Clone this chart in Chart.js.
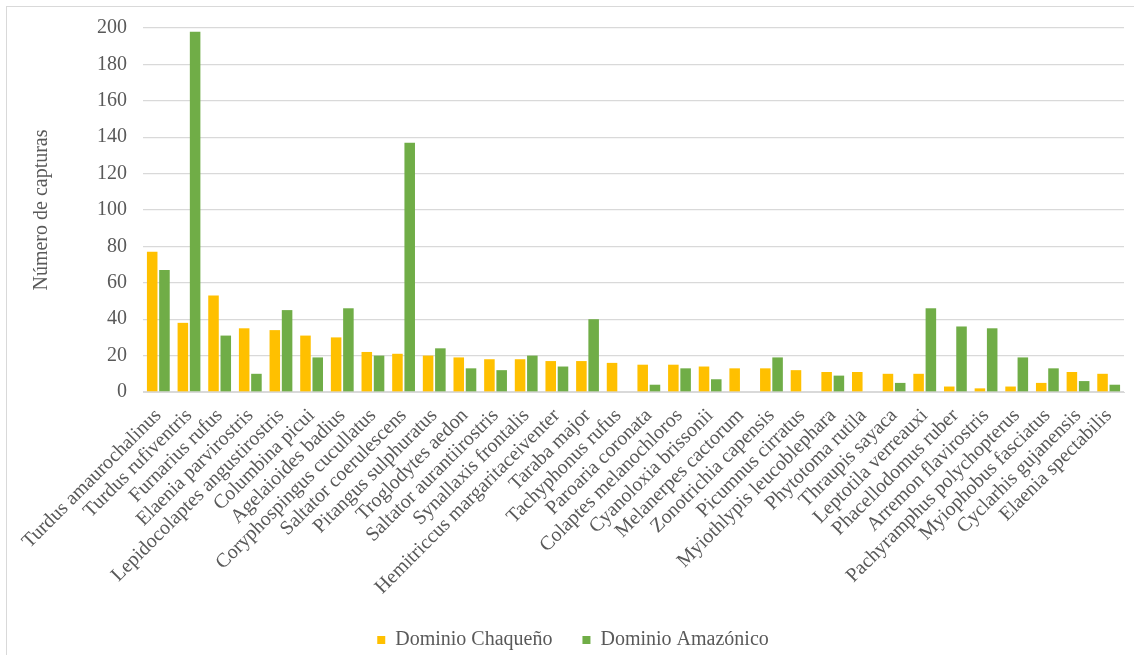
<!DOCTYPE html>
<html>
<head>
<meta charset="utf-8">
<script src="https://cdn.jsdelivr.net/npm/chart.js@4.4.1/dist/chart.umd.min.js"></script>
<style>
    html, body { margin: 0; padding: 0; background: #ffffff; overflow: hidden; }
    #wrap { position: relative; width: 1134px; height: 655px; }
    #frame { position: absolute; left: 6px; top: 6px; width: 1400px; height: 900px; border: 1px solid #d9d9d9; }
    #capturas_canvas { position: absolute; left: 0; top: 0; }
</style>
</head>
<body>
<div id="wrap">
    <div id="frame"></div>
    <canvas id="capturas_canvas" width="1134" height="655"></canvas>
</div>
<script>
// especies registradas
var especies = [
    'Turdus amaurochalinus',
    'Turdus rufiventris',
    'Furnarius rufus',
    'Elaenia parvirostris',
    'Lepidocolaptes angustirostris',
    'Columbina picui',
    'Agelaioides badius',
    'Coryphospingus cucullatus',
    'Saltator coerulescens',
    'Pitangus sulphuratus',
    'Troglodytes aedon',
    'Saltator aurantiirostris',
    'Synallaxis frontalis',
    'Hemitriccus margaritaceiventer',
    'Taraba major',
    'Tachyphonus rufus',
    'Paroaria coronata',
    'Colaptes melanochloros',
    'Cyanoloxia brissonii',
    'Melanerpes cactorum',
    'Zonotrichia capensis',
    'Picumnus cirratus',
    'Myiothlypis leucoblephara',
    'Phytotoma rutila',
    'Thraupis sayaca',
    'Leptotila verreauxi',
    'Phacellodomus ruber',
    'Arremon flavirostris',
    'Pachyramphus polychopterus',
    'Myiophobus fasciatus',
    'Cyclarhis gujanensis',
    'Elaenia spectabilis'
];

var capturasChaco = [77, 38, 53, 35, 34, 31, 30, 22, 21, 20, 19, 18, 18, 17, 17, 16,
    15, 15, 14, 13, 13, 12, 11, 11, 10, 10, 3, 2, 3, 5, 11, 10];
var capturasAmazonia = [67, 198, 31, 10, 45, 19, 46, 20, 137, 24, 13, 12, 20, 14, 40, 0,
    4, 13, 7, 0, 19, 0, 9, 0, 5, 46, 36, 35, 19, 13, 6, 4];

var nombresSeries = ['Dominio Chaqueño', 'Dominio Amazónico'];
var tituloEjeY = 'Número de capturas';
var ejeYMax = 200;
var ejeYPaso = 20;

var fuente = { family: "'Liberation Serif', 'Times New Roman', serif", size: 20 };
var gris = '#595959';

// corre la leyenda un poco a la derecha
var moverLeyenda = {
    id: 'moverLeyenda',
    afterLayout: function(chart) {
        if (chart.legend) {
            chart.legend.left += 11;
            chart.legend.right += 11;
        }
    }
};

function createGraphic() {
    const canvas = document.getElementById('capturas_canvas');
    const graphicChart = new Chart(canvas, {
        type: 'bar',
        data: {
            labels: especies,
            datasets: [{
                label: nombresSeries[0],
                data: capturasChaco,
                backgroundColor: '#FFC000',
                borderWidth: 0
            }, {
                label: nombresSeries[1],
                data: capturasAmazonia,
                backgroundColor: '#70AD47',
                borderWidth: 0
            }]
        },
        options: {
            responsive: false,
            animation: false,
            devicePixelRatio: 1,
            categoryPercentage: 0.8,
            barPercentage: 0.86,
            layout: {
                padding: { left: 0, top: 27, right: 10, bottom: -5 }
            },
            plugins: {
                tooltip: { enabled: false },
                legend: {
                    position: 'bottom',
                    labels: {
                        boxWidth: 8,
                        boxHeight: 8,
                        padding: 30,
                        color: gris,
                        font: fuente
                    }
                }
            },
            scales: {
                x: {
                    grid: { display: false },
                    border: { display: true, color: '#d9d9d9', width: 1 },
                    ticks: {
                        autoSkip: false,
                        minRotation: 45,
                        maxRotation: 45,
                        padding: 4,
                        color: gris,
                        font: fuente
                    },
                    afterFit: function(scale) {
                        scale.height = 208;
                    }
                },
                y: {
                    min: 0,
                    max: ejeYMax,
                    grid: {
                        color: '#d9d9d9',
                        lineWidth: 1.3,
                        drawTicks: false
                    },
                    border: { display: false },
                    ticks: {
                        stepSize: ejeYPaso,
                        padding: 16,
                        color: gris,
                        font: fuente
                    },
                    title: {
                        display: true,
                        text: tituloEjeY,
                        color: gris,
                        font: fuente,
                        padding: { top: 30, bottom: 0 }
                    },
                    afterFit: function(scale) {
                        scale.width = 143;
                    }
                }
            }
        },
        plugins: [moverLeyenda]
    });
}

createGraphic();
</script>
</body>
</html>
